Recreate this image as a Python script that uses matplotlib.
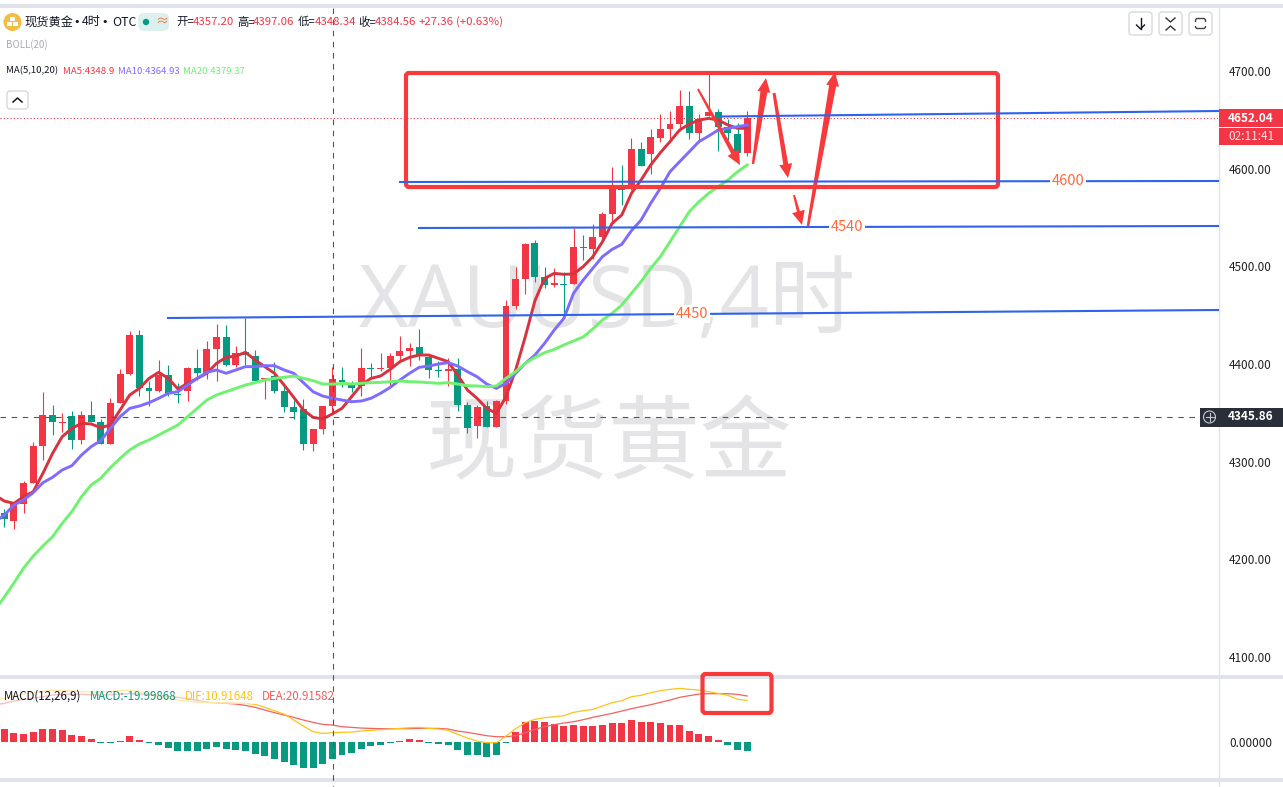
import numpy as np
import matplotlib
matplotlib.use('Agg')
import matplotlib.pyplot as plt
from matplotlib.patches import FancyBboxPatch, Polygon, Circle, Rectangle

plt.rcParams['font.family'] = ['Noto Sans CJK SC', 'DejaVu Sans']

# candles
opens = [4247.1, 4239.6, 4257.0, 4278.5, 4316.1, 4347.8, 4339.9, 4346.8, 4322.2, 4347.8,
         4340.6, 4318.1, 4360.1, 4389.8, 4429.7, 4375.4, 4372.4, 4388.7, 4369.3, 4372.4,
         4395.9, 4390.8, 4415.4, 4427.7, 4399.0, 4412.0, 4408.2, 4384.7, 4387.7, 4372.4,
         4356.0, 4353.9, 4318.1, 4333.5, 4357.20, 4383.6, 4378.5, 4377.5, 4395.9, 4394.9,
         4395.9, 4408.2, 4413.7, 4417.4, 4407.2, 4393.9, 4393.2, 4394.9, 4358.0, 4336.5,
         4357.0, 4335.5, 4362.1, 4459.4, 4487.0, 4523.9, 4489.1, 4480.9, 4481.6, 4482.0,
         4519.8, 4517.7, 4530.0, 4553.6, 4579.2, 4579.2, 4620.1, 4615.0, 4631.4, 4640.6,
         4645.7, 4664.2, 4636.5, 4653.9, 4658.0, 4643.0, 4635.5, 4616.0]
highs = [4251.5, 4259.1, 4280.2, 4320.1, 4371.3, 4358.0, 4349.5, 4351.9, 4351.9, 4362.1,
         4344.0, 4364.9, 4394.6, 4433.8, 4434.8, 4382.6, 4404.1, 4399.0, 4380.2, 4397.0,
         4415.4, 4423.6, 4441.0, 4440.0, 4418.4, 4447.1, 4414.3, 4385.3, 4401.7, 4378.5,
         4363.2, 4364.2, 4333.5, 4357.0, 4397.06, 4396.9, 4382.6, 4416.4, 4401.0, 4411.3,
         4411.3, 4428.7, 4421.5, 4435.8, 4409.2, 4403.1, 4406.1, 4406.1, 4361.1, 4358.0,
         4362.1, 4363.1, 4465.5, 4499.3, 4523.9, 4527.0, 4499.3, 4498.3, 4494.2, 4539.2,
         4532.1, 4543.3, 4555.6, 4601.7, 4603.7, 4631.4, 4627.3, 4640.6, 4656.0, 4659.0,
         4680.5, 4679.5, 4656.0, 4699.0, 4661.1, 4650.5, 4646.4, 4659.0]
lows = [4233.5, 4230.7, 4247.8, 4277.8, 4301.7, 4327.3, 4330.0, 4313.0, 4318.4, 4341.0,
        4318.1, 4318.1, 4360.1, 4388.7, 4367.2, 4357.0, 4371.3, 4367.2, 4360.1, 4362.1,
        4383.6, 4384.7, 4382.6, 4398.0, 4397.3, 4399.0, 4382.6, 4364.2, 4370.3, 4350.9,
        4343.7, 4311.9, 4310.9, 4328.3, 4348.34, 4376.5, 4371.3, 4367.2, 4386.7, 4392.8,
        4377.5, 4404.1, 4397.9, 4404.1, 4385.7, 4386.7, 4377.5, 4351.9, 4329.4, 4324.2,
        4335.5, 4335.5, 4359.0, 4456.0, 4471.7, 4484.0, 4477.8, 4479.2, 4449.1, 4482.0,
        4506.5, 4507.5, 4523.9, 4545.4, 4562.8, 4578.2, 4602.7, 4594.5, 4627.3, 4629.3,
        4638.6, 4630.4, 4627.3, 4653.9, 4618.1, 4629.3, 4615.7, 4613.0]
closes = [4241.0, 4258.4, 4278.2, 4316.1, 4347.8, 4341.0, 4340.6, 4322.2, 4347.8, 4341.0,
          4318.1, 4360.1, 4389.8, 4429.7, 4375.8, 4372.4, 4388.7, 4369.3, 4368.6, 4395.9,
          4390.8, 4415.4, 4427.7, 4399.0, 4410.9, 4409.2, 4382.6, 4385.3, 4372.4, 4356.0,
          4350.9, 4318.1, 4333.5, 4357.0, 4384.56, 4381.6, 4375.8, 4395.9, 4395.2, 4395.9,
          4408.2, 4413.3, 4416.4, 4409.2, 4394.2, 4393.2, 4394.9, 4358.0, 4334.5, 4356.0,
          4335.5, 4362.1, 4459.4, 4487.0, 4522.9, 4489.1, 4480.9, 4482.9, 4480.9, 4519.8,
          4518.8, 4530.0, 4553.6, 4579.2, 4578.2, 4620.1, 4602.7, 4632.4, 4640.6, 4645.7,
          4664.2, 4636.5, 4650.8, 4658.0, 4642.7, 4636.5, 4616.0, 4652.04]

# the lines start one bar before the first visible candle
ma5 = [4266.0, 4259.7, 4257.3, 4264.2, 4269.3, 4288.1, 4308.5, 4325.6, 4334.1, 4339.3, 4338.6,
       4334.8, 4337.6, 4352.9, 4368.3, 4375.1, 4385.3, 4391.5, 4385.3, 4374.4, 4380.2,
       4385.3, 4390.5, 4400.7, 4406.8, 4408.2, 4412.0, 4404.1, 4397.3, 4390.5, 4378.5,
       4365.9, 4352.9, 4345.4, 4343.7, 4348.9, 4354.6, 4366.6, 4378.5, 4385.3, 4387.7,
       4394.5, 4402.4, 4406.8, 4409.2, 4409.2, 4405.8, 4402.4, 4388.7, 4373.4, 4364.9,
       4354.6, 4349.5, 4366.5, 4393.9, 4428.0, 4464.8, 4487.7, 4492.8, 4491.8, 4492.2,
       4499.7, 4509.9, 4525.2, 4544.0, 4552.6, 4574.7, 4588.4, 4603.8, 4616.4, 4627.7,
       4639.6, 4645.7, 4649.8, 4651.5, 4649.8, 4644.7, 4641.3, 4641.3]
ma10 = [4238.0, 4245.4, 4255.6, 4260.8, 4268.3, 4278.5, 4284.0, 4291.5, 4295.9, 4306.8, 4315.4,
        4321.5, 4334.1, 4346.1, 4354.6, 4357.0, 4360.4, 4364.9, 4370.0, 4371.7, 4378.5,
        4385.3, 4391.5, 4393.9, 4390.5, 4393.9, 4397.3, 4397.3, 4398.3, 4398.3, 4393.9,
        4390.5, 4380.9, 4371.7, 4367.2, 4364.93, 4363.1, 4361.4, 4362.1, 4364.9, 4370.0,
        4376.1, 4383.6, 4390.5, 4396.6, 4397.9, 4400.0, 4401.4, 4397.9, 4392.2, 4387.0,
        4379.5, 4375.1, 4380.2, 4390.5, 4400.7, 4409.2, 4421.2, 4434.8, 4446.7, 4472.4,
        4486.0, 4498.0, 4509.9, 4517.4, 4522.5, 4536.5, 4547.4, 4564.5, 4579.9, 4596.9,
        4607.2, 4617.4, 4627.7, 4633.4, 4639.6, 4641.3, 4643.0, 4644.7]
ma20 = [4148.0, 4161.4, 4175.8, 4191.1, 4203.4, 4213.7, 4223.2, 4236.9, 4248.8, 4264.2, 4276.1,
        4283.0, 4293.9, 4303.4, 4312.0, 4318.1, 4322.2, 4327.3, 4332.4, 4337.6, 4346.1,
        4354.6, 4363.1, 4368.3, 4371.7, 4375.1, 4378.5, 4380.9, 4383.6, 4385.3, 4386.4,
        4387.7, 4385.3, 4383.0, 4379.5, 4379.37, 4380.2, 4379.5, 4380.2, 4380.9, 4381.2,
        4381.9, 4382.6, 4381.9, 4381.6, 4380.9, 4380.2, 4380.9, 4379.5, 4377.8, 4377.5,
        4376.8, 4377.5, 4385.3, 4392.2, 4400.7, 4406.8, 4411.6, 4415.0, 4419.5, 4423.6,
        4427.7, 4435.9, 4445.1, 4451.9, 4460.4, 4472.4, 4484.3, 4498.0, 4509.9, 4525.2,
        4540.6, 4556.0, 4566.2, 4574.7, 4581.6, 4588.4, 4596.9, 4603.8]

macd_hist = [28.9, 20.0, 17.8, 22.2, 28.9, 28.9, 26.6, 15.5, 13.3, 6.7,
             -3.0, -2.2, 1.5, 13.3, 4.4, -0.7, -6.7, -13.3, -20.0, -20.0,
             -20.0, -15.5, -11.1, -15.5, -17.8, -20.0, -26.6, -31.1, -37.7, -44.4,
             -51.1, -57.7, -57.7, -48.8, -37.7, -28.9, -24.4, -15.5, -8.9, -6.7,
             -2.2, 1.5, 6.7, 4.4, -2.2, -4.4, -6.7, -17.8, -28.9, -28.9,
             -33.3, -28.9, -1.5, 22.9, 44.4, 46.6, 44.4, 40.0, 35.5, 37.7,
             35.5, 35.5, 37.7, 42.2, 42.2, 48.8, 44.4, 44.4, 42.2, 37.7,
             37.7, 24.4, 17.8, 13.3, 4.4, -6.7, -17.8, -20.0]
dif = [12.0, 15.8, 21.4, 26.1, 29.3, 32.5, 35.7, 34.1, 33.3, 31.7, 30.9,
       30.9, 31.7, 34.1, 35.7, 31.7, 26.1, 19.8, 15.0, 11.8, 9.5,
       7.1, 6.3, 5.5, 5.5, 4.7, 3.9, 1.5, -5.6, -13.6, -21.5,
       -35.8, -50.1, -63.6, -67.6, -66.0, -65.2, -64.4, -62.0, -60.4, -58.8,
       -57.2, -55.7, -54.1, -53.3, -55.7, -57.2, -60.4, -69.9, -78.7, -85.8,
       -89.8, -89.8, -73.9, -56.4, -42.2, -34.2, -30.2, -27.9, -25.5, -17.5,
       -13.6, -10.4, -2.5, 5.5, 10.2, 19.8, 23.0, 29.3, 34.1, 37.2,
       39.6, 37.2, 35.7, 31.7, 27.7, 23.0, 13.4, 11.0]
dea = [2.0, 3.9, 9.5, 13.4, 16.6, 19.8, 23.8, 25.3, 26.1, 25.3, 24.5,
       23.8, 24.5, 26.1, 26.9, 26.1, 24.5, 23.0, 20.6, 18.2, 15.0,
       11.0, 7.1, 4.7, 3.9, 2.3, -0.9, -5.6, -12.0, -18.3, -23.9,
       -29.4, -35.8, -41.4, -46.1, -47.7, -51.7, -53.3, -54.9, -55.7, -56.4,
       -56.4, -56.4, -56.4, -55.7, -55.7, -55.7, -57.2, -62.0, -65.2, -69.1,
       -73.1, -75.5, -75.5, -73.1, -66.0, -58.0, -51.7, -46.9, -42.9, -39.8,
       -35.0, -29.4, -24.7, -19.9, -14.4, -8.8, -4.0, 0.7, 6.3, 11.8,
       18.2, 22.2, 26.1, 26.9, 26.9, 26.9, 25.3, 21.4]

price_ticks = [4100, 4200, 4300, 4400, 4500, 4600, 4700]

UP = '#f23645'
DOWN = '#089981'
W, H = 1283, 787
BAND = '#e0e3eb'


def pane(left, top, right, bottom, z):
    a = fig.add_axes([left / W, 1 - bottom / H, (right - left) / W, (bottom - top) / H], zorder=z)
    a.patch.set_alpha(0)
    for s in a.spines.values():
        s.set_visible(False)
    return a


fig = plt.figure(figsize=(W / 100, H / 100), dpi=100, facecolor='white')

# pixel layer under the chart: bands and watermark
bg = pane(0, 0, W, H, 0)
bg.set_xlim(0, W)
bg.set_ylim(H, 0)
bg.axis('off')
for y0, y1 in [(4, 8), (675, 679), (778, 782)]:
    bg.add_patch(Rectangle((0, y0), W, y1 - y0, color=BAND, lw=0))
bg.plot([1218.5, 1218.5], [8, H], color=BAND, lw=1)
bg.text(607, 305, 'XAUUSD,4时', fontsize=62, color='#e4e4e7', ha='center', va='center',
        family=['Open Sans', 'Noto Sans CJK SC'])
bg.text(608, 446, '现货黄金', fontsize=66, color='#e4e4e7', ha='center', va='center')

# candles
x = np.arange(len(closes))
x_line = np.arange(-1, len(closes))
o, h, l, c = map(np.array, (opens, highs, lows, closes))
cols = [UP if cc >= oo else DOWN for oo, cc in zip(o, c)]
ax = pane(0, 8, 1218, 675, 2)
ax.vlines(x, l, h, colors=cols, lw=0.8)
ax.bar(x, np.maximum(np.abs(c - o), 1.0), bottom=np.minimum(o, c), width=0.72, color=cols, lw=0)
ax.plot(x_line, ma5, color='#d8323f', lw=2.1, solid_joinstyle='round')
ax.plot(x_line, ma10, color='#7f6cff', lw=2.1, solid_joinstyle='round')
ax.plot(x_line, ma20, color='#6ff26f', lw=2.1, solid_joinstyle='round')
ax.axhline(closes[-1], color=UP, lw=0.8, ls=(0, (1, 2)))
ax.set_xlim(-0.446, 125.8)
ax.set_ylim(4081.6, 4764.5)
ax.set_xticks([])
ax.yaxis.tick_right()
ax.set_yticks(price_ticks)
ax.set_yticklabels(['%.2f' % t for t in price_ticks])
ax.tick_params(axis='y', length=0, pad=8, labelsize=8.5, labelcolor='#222222')

# MACD pane, histogram and lines have their own scales
am = pane(0, 679, 1218, 778, 2)
am.bar(x, np.where(np.abs(macd_hist) < 2.5, np.sign(macd_hist) * 2.5, macd_hist), width=0.72,
       color=[UP if v > 0 else DOWN for v in macd_hist], lw=0)
am.set_xlim(-0.446, 125.8)
am.set_ylim(-80, 140)
am.set_xticks([])
am.yaxis.tick_right()
am.set_yticks([0])
am.set_yticklabels(['0.00000'])
am.tick_params(axis='y', length=0, pad=8, labelsize=8.5, labelcolor='#222222')

al = pane(0, 679, 1218, 778, 2)
al.plot(x_line, dea, color='#f4605e', lw=0.9)
al.plot(x_line, dif, color='#fcc419', lw=0.9)
al.set_xlim(-0.446, 125.8)
al.set_ylim(-173.8, 61.9)
al.set_xticks([])
al.set_yticks([])

# pixel layer on top: drawings, legend and buttons
ui = pane(0, 0, W, H, 5)
ui.set_xlim(0, W)
ui.set_ylim(H, 0)
ui.axis('off')

ui.plot([332.5, 332.5], [8, H], color='#555560', lw=0.8, ls=(0, (5, 5)))
ui.plot([0, 1200], [417, 417], color='#555560', lw=0.8, ls=(0, (5, 5)))

BLUE = '#2f62ee'
ORANGE = '#ff6a3a'
ui.plot([168, 1218], [318, 310], color=BLUE, lw=1.5)
ui.plot([419, 1218], [228, 226], color=BLUE, lw=1.5)
ui.plot([400, 1218], [182, 181], color=BLUE, lw=1.5)
ui.plot([720, 1218], [116.5, 111], color=BLUE, lw=1.5)
for tx, ty, s in [(692, 314, '4450'), (847, 227, '4540'), (1068, 181, '4600')]:
    ui.text(tx, ty, s, color=ORANGE, fontsize=10.5, ha='center', va='center',
            bbox=dict(facecolor='white', edgecolor='none', pad=1.5))

RED = '#f83a3a'
ui.add_patch(FancyBboxPatch((406, 73), 592, 114, boxstyle='round,pad=0,rounding_size=3',
                            fc='none', ec=RED, lw=3))
ui.add_patch(FancyBboxPatch((702.5, 674), 69, 39, boxstyle='round,pad=0,rounding_size=3',
                            fc='none', ec=RED, lw=3))


def arrow(x0, y0, x1, y1, neck_w=3.0, tail_w=1.3):
    d = np.array([x1 - x0, y1 - y0], float)
    n = np.hypot(*d)
    d /= n
    p = np.array([-d[1], d[0]])
    a, b = np.array([x0, y0]), np.array([x1, y1])
    neck = b - d * 14
    pts = [a + p * tail_w, neck + p * neck_w, neck + p * 6.5, b, neck - p * 6.5, neck - p * neck_w, a - p * tail_w]
    ui.add_patch(Polygon(pts, closed=True, fc=RED, ec='none'))


arrow(698, 89, 740, 165, neck_w=2.2, tail_w=1.0)
arrow(753, 164, 766, 78, neck_w=3.5, tail_w=1.2)
arrow(774, 93, 788, 178, neck_w=2.5, tail_w=1.5)
arrow(794, 195, 802, 225, neck_w=1.5, tail_w=1.0)
arrow(808, 226, 835, 72, neck_w=3.5, tail_w=1.3)

# legend
MONO = '#131722'
ui.add_patch(Circle((12.5, 22), 9, fc='#f2bd42', ec='none'))
ui.add_patch(Rectangle((10, 16.5), 5, 4, fc='white', ec='none'))
ui.add_patch(Rectangle((7, 22), 5, 4, fc='white', ec='none'))
ui.add_patch(Rectangle((13, 22), 5, 4, fc='white', ec='none'))
for tx, s in [(24, '现货黄金'), (82, '4时'), (112, 'OTC')]:
    ui.text(tx, 22, s, fontsize=8.8, color=MONO, va='center')
for tx in [76.5, 105]:
    ui.text(tx, 22, '•', fontsize=8, color=MONO, ha='center', va='center', family='DejaVu Sans')
ui.add_patch(FancyBboxPatch((138, 13), 31, 18, boxstyle='round,pad=0,rounding_size=6', fc='#dcf1ed', ec='none'))
ui.add_patch(Circle((146, 22), 3.2, fc=DOWN, ec='none'))
ui.text(162, 22, '≈', fontsize=9.5, color=ORANGE, ha='center', va='center')
for tx, s, col in [(176, '开=', MONO), (193, '4357.20', UP), (237, '高=', MONO), (253, '4397.06', UP),
                   (298, '低=', MONO), (315, '4348.34', UP), (358, '收=', MONO), (375, '4384.56', UP),
                   (419, '+27.36', UP), (456, '(+0.63%)', UP)]:
    ui.text(tx, 22, s, fontsize=8.2, color=col, va='center')
ui.text(6, 45, 'BOLL(20)', fontsize=7, color='#a9abb8', va='center')
for tx, s, col in [(6, 'MA(5,10,20)', MONO), (63, 'MA5:4348.9', UP), (118, 'MA10:4364.93', '#7f6cff'),
                   (183, 'MA20:4379.37', '#6ff26f')]:
    ui.text(tx, 71, s, fontsize=6.9, color=col, va='center')
# the legend sits on a half white strip, the lines go pale behind it
ui.add_patch(Rectangle((0, 688), 336, 16, fc='white', ec='none', alpha=0.6))
for tx, s, col in [(4, 'MACD(12,26,9)', MONO), (90, 'MACD:-19.99868', DOWN), (185, 'DIF:10.91648', '#fcc419'),
                   (262, 'DEA:20.91582', '#f4605e')]:
    ui.text(tx, 696, s, fontsize=8.3, color=col, va='center')


def button(x0, y0, w, hh):
    ui.add_patch(FancyBboxPatch((x0, y0), w, hh, boxstyle='round,pad=0,rounding_size=3',
                                fc='white', ec='#d8d9e0', lw=1))


button(7, 91, 21, 18)
ui.plot([13, 17.5, 22], [102, 98, 102], color=MONO, lw=1.1)
button(1129, 12, 23, 23)
ui.plot([1140.5, 1140.5], [18, 29], color=MONO, lw=1)
ui.plot([1136.5, 1140.5, 1144.5], [25, 29, 25], color=MONO, lw=1)
button(1159, 12, 23, 23)
ui.plot([1166, 1170.5, 1175], [18, 22, 18], color='#333333', lw=1)
ui.plot([1166, 1170.5, 1175], [30, 26, 30], color='#333333', lw=1)
button(1189, 12, 23, 23)
ui.add_patch(FancyBboxPatch((1195.5, 18.5), 10, 10, boxstyle='round,pad=0,rounding_size=2', fc='none', ec='#444444', lw=1))
ui.add_patch(Rectangle((1194, 21.5), 13, 4, fc='white', ec='none'))

# price tags
ui.add_patch(Rectangle((1219, 109), 64, 18, fc=UP, ec='none'))
ui.add_patch(Rectangle((1219, 127.6), 64, 17.4, fc=UP, ec='none'))
ui.text(1251, 118, '4652.04', color='white', fontsize=8.5, weight='bold', ha='center', va='center')
ui.text(1251, 136, '02:11:41', color='#fde3e6', fontsize=8.5, ha='center', va='center')
ui.add_patch(Rectangle((1200, 408), 83, 19, fc='#2a2e39', ec='none'))
ui.add_patch(Circle((1209.5, 417), 6, fc='none', ec='#c8c9d0', lw=0.8))
ui.plot([1205.5, 1213.5], [417, 417], color='#c8c9d0', lw=0.8)
ui.plot([1209.5, 1209.5], [413, 421], color='#c8c9d0', lw=0.8)
ui.text(1251, 417, '4345.86', color='white', fontsize=8.5, weight='bold', ha='center', va='center')

fig.savefig('out.png', dpi=100)
